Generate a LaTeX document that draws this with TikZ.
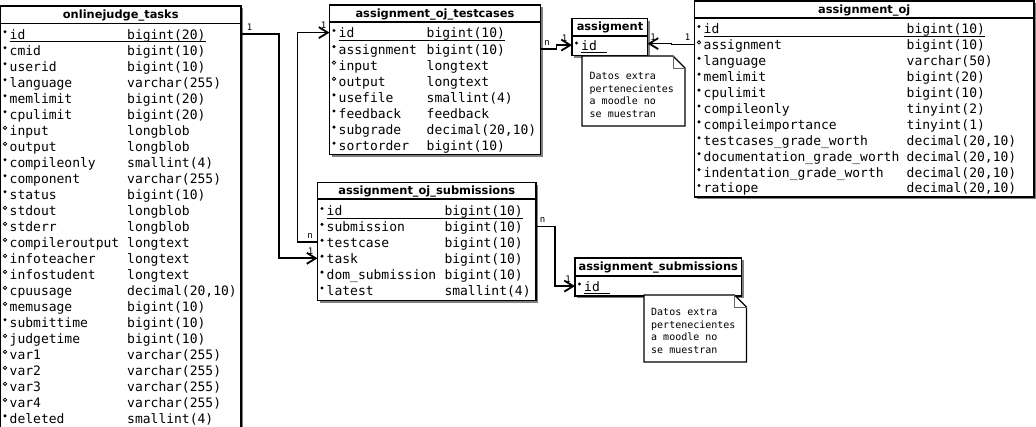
\documentclass[tikz,border=0pt]{standalone}
\usepackage{fontspec}
\usetikzlibrary{arrows.meta,shadows,calc}
\newfontfamily\monofam{DejaVu Sans Mono}
\newfontfamily\sansfam{DejaVu Sans}
\tikzset{
 tbox/.style={draw, line width=1.8pt, fill=white, inner sep=0pt, outer sep=0pt, anchor=north west,
   drop shadow={shadow xshift=2.4pt, shadow yshift=-2.4pt, fill=black!50, opacity=1}},
 sepline/.style={line width=1.8pt},
 hdr/.style={font=\sansfam\bfseries\fontsize{11.4}{13}\selectfont, anchor=base, inner sep=0pt},
 rowtxt/.style={font=\monofam\fontsize{13}{15}\selectfont, anchor=base west, inner sep=0pt, text height=10.8pt, text depth=0pt},
 uline/.style={line width=0.9pt},
 opendot/.style={draw, line width=0.8pt, fill=white},
 conn/.style={line width=1.8pt, -{Straight Barb[length=9pt,width=11pt]}},
 lbl/.style={font=\monofam\fontsize{9}{10}\selectfont, inner sep=0pt},
 notebox/.style={draw, line width=1.2pt, fill=white},
 notefold/.style={draw=black!60, line width=0.8pt},
 notetxt/.style={font=\monofam\fontsize{10}{12}\selectfont, anchor=base west, inner sep=0pt},
}
\newcommand\tabrows[6]{%
  \foreach \k/\n/\t [count=\i from 0] in {#6}{%
    \pgfmathsetmacro\yy{#4+\i*#5}%
    \node[rowtxt] (#1-r\i) at (#2+9,\yy) {\n};
    \node[rowtxt] (#1-t\i) at (#3,\yy) {\t};
    \if o\k\relax
      \path[opendot] (#2+4.5,\yy-7.5) circle (1.7pt);
    \else
      \fill (#2+4.5,\yy-7.5) circle (1.7pt);
    \fi
  }%
}
\begin{document}
\begin{tikzpicture}[x=1pt,y=-1pt]
\useasboundingbox (0,0) rectangle (1036,427);
\fill[white] (0,0) rectangle (1036,427);

% boxes
\node[tbox, minimum width=240.5pt, minimum height=434pt] (tasks) at (0.5,6) {};
\node[tbox, minimum width=211pt, minimum height=149.5pt] (tc) at (329.5,5) {};
\node[tbox, minimum width=75.5pt, minimum height=37pt] (asg) at (572,18.5) {};
\node[tbox, minimum width=339.5pt, minimum height=196pt] (aoj) at (694.5,1) {};
\node[tbox, minimum width=218.5pt, minimum height=118pt] (subs) at (317.5,182.5) {};
\node[tbox, minimum width=166.5pt, minimum height=38pt] (asub) at (575,258) {};

% header separators
\draw[sepline] ([yshift=-17.5pt]tasks.north west) -- ([yshift=-17.5pt]tasks.north east);
\draw[sepline] ([yshift=-17pt]tc.north west) -- ([yshift=-17pt]tc.north east);
\draw[sepline] ([yshift=-17.5pt]asg.north west) -- ([yshift=-17.5pt]asg.north east);
\draw[sepline] ([yshift=-17pt]aoj.north west) -- ([yshift=-17pt]aoj.north east);
\draw[sepline] ([yshift=-16.5pt]subs.north west) -- ([yshift=-16.5pt]subs.north east);
\draw[sepline] ([yshift=-18pt]asub.north west) -- ([yshift=-18pt]asub.north east);

% headers
\node[hdr] (tasks-h) at (120.75,19) {onlinejudge\_tasks};
\node[hdr] (tc-h) at (435,17.5) {assignment\_oj\_testcases};
\node[hdr] (asg-h) at (610,31) {assigment};
\node[hdr] (aoj-h) at (864.25,13.5) {assignment\_oj};
\node[hdr] (subs-h) at (426.75,194.7) {assignment\_oj\_submissions};
\node[hdr] (asub-h) at (658.25,271) {assignment\_submissions};

% rows
\tabrows{tasks}{0.5}{127}{39.3}{16}{p/id/bigint(20), f/cmid/bigint(10), f/userid/bigint(10),
 f/language/varchar(255), f/memlimit/bigint(20), f/cpulimit/bigint(20), o/input/longblob,
 o/output/longblob, f/compileonly/smallint(4), f/component/varchar(255), f/status/bigint(10),
 o/stdout/longblob, o/stderr/longblob, o/compileroutput/longtext, o/infoteacher/longtext,
 o/infostudent/longtext, o/cpuusage/{decimal(20,10)}, o/memusage/bigint(10),
 f/submittime/bigint(10), o/judgetime/bigint(10), o/var1/varchar(255), o/var2/varchar(255),
 o/var3/varchar(255), o/var4/varchar(255), f/deleted/smallint(4)}
\tabrows{tc}{329.5}{426.5}{38}{16.1}{p/id/bigint(10), f/assignment/bigint(10), o/input/longtext,
 o/output/longtext, f/usefile/smallint(4), f/feedback/feedback, f/subgrade/{decimal(20,10)},
 f/sortorder/bigint(10)}
\tabrows{aoj}{694.5}{906.5}{34}{15.9}{p/id/bigint(10), o/assignment/bigint(10), f/language/varchar(50),
 f/memlimit/bigint(20), f/cpulimit/bigint(10), f/compileonly/tinyint(2), f/compileimportance/tinyint(1),
 f/testcases\_grade\_worth/{decimal(20,10)}, f/documentation\_grade\_worth/{decimal(20,10)},
 f/indentation\_grade\_worth/{decimal(20,10)}, f/ratiope/{decimal(20,10)}}
\tabrows{subs}{317.5}{444.3}{216}{15.9}{p/id/bigint(10), f/submission/bigint(10), f/testcase/bigint(10),
 f/task/bigint(10), f/dom\_submission/bigint(10), f/latest/smallint(4)}
\node[rowtxt] (asg-r0) at (581,50.5) {id};
\fill (576.5,43) circle (1.7pt);
\node[rowtxt] (asub-r0) at (584,291.5) {id};
\fill (579.5,284) circle (1.7pt);

% underlines of keys
\draw[uline] ([yshift=-2pt]tasks-r0.base west) -- ([yshift=-2pt]tasks-t0.base east);
\draw[uline] ([yshift=-2pt]tc-r0.base west) -- ([yshift=-2pt]tc-t0.base east);
\draw[uline] ([yshift=-2pt]aoj-r0.base west) -- ([yshift=-2pt]aoj-t0.base east);
\draw[uline] ([yshift=-2pt]subs-r0.base west) -- ([yshift=-2pt]subs-t0.base east);
\draw[uline] ([yshift=-2pt]asg-r0.base west) -- ++(26,0);
\draw[uline] ([yshift=-2pt]asub-r0.base west) -- ++(26,0);

% connectors
\draw[conn] (tasks.east |- tasks-r0) -- ++(37.75,0) |- (subs.west |- subs-r3);
\draw[conn] (subs.west |- subs-r2) -- ++(-20,0) |- (tc.west |- tc-r0);
\draw[conn] (tc.east |- tc-r1) -- ++(16,0) |- (asg.west |- asg-r0);
\draw[conn] (aoj.west |- aoj-r1) -- ++(-23,0) |- ($(asg.east |- asg-r0)+(0,-1.5)$);
\draw[conn] (subs.east |- subs-r1) -- ++(19,0) |- (asub.west |- asub-r0);

% cardinality labels
\node[lbl] (la1) at (249.5,27) {1};
\node[lbl] (la2) at (310.5,251) {1};
\node[lbl] (lb1) at (310,236) {n};
\node[lbl] (lb2) at (323.5,25.5) {1};
\node[lbl] (lc1) at (547,42.5) {n};
\node[lbl] (lc2) at (564.5,38.5) {1};
\node[lbl] (ld1) at (653,37) {1};
\node[lbl] (ld2) at (687.5,37) {1};
\node[lbl] (le1) at (542.5,219.5) {n};
\node[lbl] (le2) at (568,279) {1};

% notes
\path[notebox] (582,56) -- (673,56) -- (685,68) -- (685,126) -- (582,126) -- cycle;
\draw[notefold] (673,56) -- (673,68) -- (685,68);
\node[notetxt] (n1a) at (589.5,80) {Datos extra};
\node[notetxt] (n1b) at (589.5,92.5) {pertenecientes};
\node[notetxt] (n1c) at (589.5,105) {a moodle no};
\node[notetxt] (n1d) at (589.5,117.5) {se muestran};

\path[notebox] (644,295) -- (734.5,295) -- (746.5,307) -- (746.5,362) -- (644,362) -- cycle;
\draw[notefold] (734.5,295) -- (734.5,307) -- (746.5,307);
\node[notetxt] (n2a) at (651,315.5) {Datos extra};
\node[notetxt] (n2b) at (651,328.2) {pertenecientes};
\node[notetxt] (n2c) at (651,340.9) {a moodle no};
\node[notetxt] (n2d) at (651,353.6) {se muestran};
\end{tikzpicture}
\end{document}
